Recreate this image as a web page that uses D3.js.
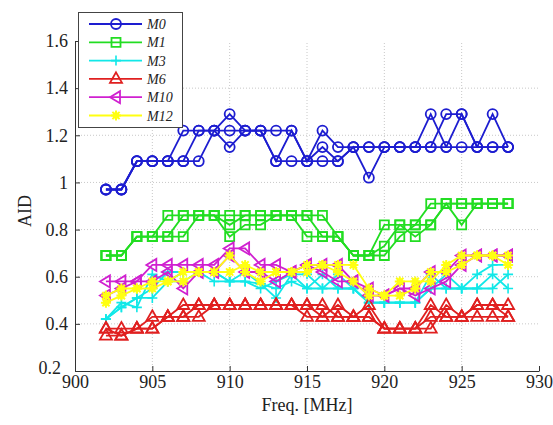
<!DOCTYPE html>
<html><head><meta charset="utf-8">
<script src="https://cdn.jsdelivr.net/npm/d3@7"></script>
<style>body{margin:0;background:#fff}svg{display:block}</style>
</head><body>
<script>
// ---- data ----
const freqs = [902,903,904,905,906,907,908,909,910,911,912,913,914,915,916,917,918,919,920,921,922,923,924,925,926,927,928];
const xTicks = [900,905,910,915,920,925,930];
const yTicks = [0.2,0.4,0.6,0.8,1.0,1.2,1.4,1.6];
const yTickLabels = ["0.2","0.4","0.6","0.8","1","1.2","1.4","1.6"];
const seriesNames = ["M0","M1","M3","M6","M10","M12"];
const seriesColors = ["#1d1dd0","#22dd22","#11e8e8","#e02020","#d020d0","#ffff11"];
// each model: several measurement runs over freqs
const M0 = [
 [0.97,0.97,1.09,1.09,1.09,1.22,1.22,1.22,1.29,1.22,1.22,1.22,1.22,1.09,1.22,1.15,1.15,1.15,1.15,1.15,1.15,1.29,1.15,1.15,1.15,1.29,1.15],
 [0.97,0.97,1.09,1.09,1.09,1.09,1.22,1.22,1.15,1.22,1.22,1.09,1.22,1.09,1.15,1.09,1.15,1.02,1.15,1.15,1.15,1.15,1.29,1.29,1.15,1.15,1.15],
 [0.97,0.97,1.09,1.09,1.09,1.09,1.09,1.22,1.22,1.22,1.22,1.09,1.09,1.09,1.09,1.09,1.15,1.15,1.15,1.15,1.15,1.15,1.15,1.29,1.15,1.15,1.15]
];
const M1 = [
 [0.69,0.69,0.77,0.77,0.86,0.86,0.86,0.86,0.82,0.86,0.86,0.86,0.86,0.86,0.86,0.77,0.69,0.69,0.82,0.82,0.82,0.91,0.91,0.91,0.91,0.91,0.91],
 [0.69,0.69,0.77,0.77,0.77,0.86,0.86,0.86,0.77,0.82,0.82,0.86,0.86,0.77,0.77,0.77,0.69,0.69,0.73,0.82,0.77,0.82,0.91,0.82,0.91,0.91,0.91],
 [0.69,0.69,0.77,0.77,0.77,0.77,0.86,0.86,0.86,0.86,0.86,0.86,0.86,0.86,0.77,0.77,0.69,0.69,0.69,0.77,0.82,0.82,0.91,0.91,0.91,0.91,0.91]
];
const M3 = [
 [0.42,0.47,0.51,0.55,0.62,0.62,0.62,0.62,0.58,0.62,0.57,0.51,0.61,0.61,0.55,0.61,0.55,0.49,0.49,0.49,0.49,0.61,0.55,0.55,0.61,0.65,0.65],
 [0.42,0.49,0.47,0.61,0.58,0.62,0.62,0.58,0.58,0.58,0.55,0.58,0.61,0.55,0.55,0.55,0.55,0.49,0.49,0.49,0.49,0.55,0.55,0.55,0.55,0.61,0.55],
 [0.42,0.47,0.51,0.51,0.58,0.58,0.62,0.62,0.58,0.58,0.57,0.55,0.58,0.55,0.61,0.55,0.55,0.49,0.49,0.49,0.49,0.55,0.61,0.55,0.55,0.55,0.61]
];
const M6 = [
 [0.38,0.38,0.38,0.43,0.43,0.48,0.48,0.48,0.48,0.48,0.48,0.48,0.48,0.48,0.48,0.43,0.43,0.43,0.38,0.38,0.38,0.43,0.43,0.43,0.48,0.48,0.48],
 [0.35,0.35,0.38,0.38,0.43,0.43,0.48,0.48,0.48,0.48,0.48,0.48,0.48,0.43,0.43,0.48,0.43,0.43,0.38,0.38,0.38,0.48,0.43,0.43,0.43,0.43,0.43],
 [0.38,0.35,0.38,0.38,0.43,0.43,0.43,0.48,0.48,0.48,0.48,0.48,0.48,0.48,0.43,0.43,0.43,0.48,0.38,0.38,0.38,0.38,0.48,0.43,0.48,0.48,0.43]
];
const M10 = [
 [0.58,0.58,0.58,0.65,0.65,0.65,0.65,0.65,0.72,0.72,0.65,0.65,0.62,0.65,0.65,0.65,0.58,0.55,0.52,0.55,0.55,0.62,0.62,0.69,0.69,0.69,0.69],
 [0.52,0.55,0.58,0.58,0.62,0.55,0.62,0.62,0.69,0.62,0.62,0.58,0.62,0.65,0.62,0.58,0.58,0.52,0.52,0.55,0.52,0.55,0.58,0.65,0.69,0.69,0.69]
];
const M12 = [
 [0.52,0.55,0.55,0.58,0.58,0.62,0.62,0.62,0.62,0.65,0.62,0.62,0.62,0.62,0.65,0.65,0.65,0.55,0.52,0.58,0.58,0.58,0.65,0.69,0.69,0.69,0.69],
 [0.49,0.52,0.55,0.55,0.58,0.58,0.62,0.62,0.69,0.62,0.58,0.62,0.62,0.65,0.65,0.62,0.58,0.52,0.52,0.52,0.55,0.62,0.62,0.65,0.69,0.69,0.65]
];
const allSeries = [M0, M1, M3, M6, M10, M12];
const markers = ["circle","square","plus","triangle","left","star"];

// ---- layout ----
const W = 553, H = 425;
const svg = d3.select("body").append("svg").attr("width", W).attr("height", H);
const x = d3.scaleLinear().domain([900,930]).range([75,539]);
const y = d3.scaleLinear().domain([0.2,1.6]).range([371,41]);
const font = "'Liberation Serif','Times New Roman',serif";

// grid
const grid = svg.append("g");
xTicks.slice(1,-1).forEach(t => grid.append("line").attr("x1",x(t)).attr("x2",x(t)).attr("y1",y(0.2)).attr("y2",y(1.6))
  .attr("stroke","#c8c8c8").attr("stroke-width",1).attr("stroke-dasharray","1,2"));
yTicks.slice(1,-1).forEach(t => grid.append("line").attr("x1",x(900)).attr("x2",x(930)).attr("y1",y(t)).attr("y2",y(t))
  .attr("stroke","#c8c8c8").attr("stroke-width",1).attr("stroke-dasharray","1,2"));

// axes
const xAxis = d3.axisBottom(x).tickValues(xTicks).tickSizeInner(-5).tickSizeOuter(0).tickPadding(4).tickFormat(d3.format("d"));
const yAxis = d3.axisLeft(y).tickValues(yTicks).tickSizeInner(-5).tickSizeOuter(0).tickPadding(7).tickFormat((d,i)=>yTickLabels[i]);
const gx = svg.append("g").attr("transform",`translate(0,${y(0.2)})`).call(xAxis);
const gy = svg.append("g").attr("transform",`translate(${x(900)},0)`).call(yAxis);
[gx,gy].forEach(g=>{
  g.selectAll("path").attr("stroke","#333").attr("stroke-width",1);
  g.selectAll("line").attr("stroke","#333");
  g.selectAll("text").attr("font-family",font).attr("font-size",18).attr("fill","#222");
});
// keep the lowest y label clear of the first x label
gy.selectAll(".tick").filter(d=>d===0.2).select("text").attr("dx",-7).attr("dy","0.12em");

svg.append("text").attr("x",307).attr("y",411).attr("text-anchor","middle")
  .attr("font-family",font).attr("font-size",18).attr("fill","#222").text("Freq. [MHz]");
svg.append("text").attr("transform","translate(31,211) rotate(-90)").attr("text-anchor","middle")
  .attr("font-family",font).attr("font-size",18).attr("fill","#222").text("AID");

// markers
function markerPath(type){
  switch(type){
    case "circle": return d3.symbol().type(d3.symbolCircle).size(Math.PI*25)();
    case "square": return "M-4.5,-4.5H4.5V4.5H-4.5Z";
    case "plus": return "M-5,0H5M0,-5V5";
    case "triangle": return "M0,-6.5L6,4L-6,4Z";
    case "left": return "M-6,0L4,-6L4,6Z";
    case "star": return "M-5,0H5M0,-5V5M-3.6,-3.6L3.6,3.6M-3.6,3.6L3.6,-3.6";
  }
}
function drawMarker(g, type, color, cx, cy){
  if(type==="star"){
    g.append("path").attr("d",markerPath(type)).attr("transform",`translate(${cx},${cy})`)
      .attr("stroke",color).attr("stroke-width",2).attr("fill","none");
    g.append("circle").attr("cx",cx).attr("cy",cy).attr("r",3.2).attr("fill",color);
  } else {
    g.append("path").attr("d",markerPath(type)).attr("transform",`translate(${cx},${cy})`)
      .attr("stroke",color).attr("stroke-width",type==="plus"?1.6:1.8).attr("fill","none");
  }
}

const line = d3.line().x((d,i)=>x(freqs[i])).y(d=>y(d));
const plotG = svg.append("g");
allSeries.forEach((runs,si)=>{
  const color = seriesColors[si];
  const g = plotG.append("g");
  runs.forEach(run=>{
    g.append("path").attr("d",line(run)).attr("fill","none").attr("stroke",color).attr("stroke-width",1.8);
  });
  runs.forEach(run=>{
    run.forEach((v,i)=>drawMarker(g, markers[si], color, x(freqs[i]), y(v)));
  });
});

// legend
const lg = svg.append("g");
lg.append("rect").attr("x",78.5).attr("y",12.5).attr("width",104).attr("height",115)
  .attr("fill","#fff").attr("stroke","#444").attr("stroke-width",1);
seriesNames.forEach((name,i)=>{
  const ly = 24 + i*18.3;
  lg.append("line").attr("x1",89).attr("x2",142).attr("y1",ly).attr("y2",ly)
    .attr("stroke",seriesColors[i]).attr("stroke-width",1.8);
  drawMarker(lg, markers[i], seriesColors[i], 116, ly);
  lg.append("text").attr("x",147).attr("y",ly+5).attr("font-family",font).attr("font-style","italic")
    .attr("font-size",14).attr("fill","#222").text(name);
});
</script>
</body></html>
